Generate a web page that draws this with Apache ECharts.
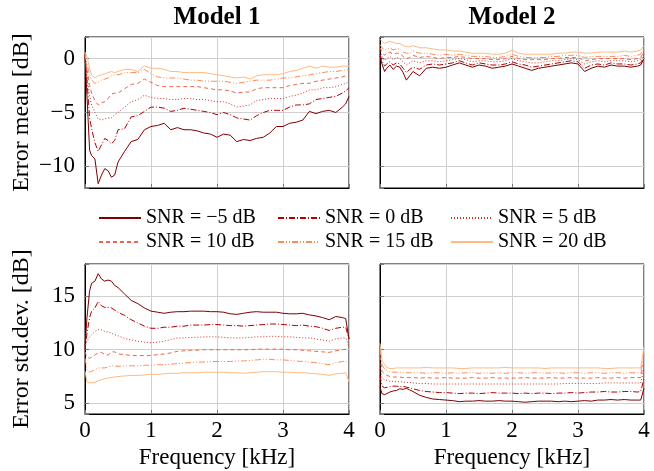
<!DOCTYPE html>
<html>
<head>
<meta charset="utf-8">
<script src="https://cdn.jsdelivr.net/npm/echarts@6/dist/echarts.min.js"></script>
<style>
  html, body { margin: 0; padding: 0; background: #fff; }
  #box { width: 654px; height: 471px; }
</style>
</head>
<body>
<div id="box"></div>
<script>
// frequency grid in kHz
var freq = [0, 0.03, 0.07, 0.1, 0.15, 0.2, 0.25, 0.3, 0.35, 0.4, 0.45, 0.5,
  0.6, 0.7, 0.8, 0.9, 1.0, 1.1, 1.2, 1.3, 1.4, 1.5,
  1.6, 1.7, 1.8, 1.9, 2.0, 2.1, 2.2, 2.3, 2.4, 2.5,
  2.6, 2.7, 2.8, 2.9, 3.0, 3.1, 3.2, 3.3, 3.4, 3.5,
  3.6, 3.7, 3.8, 3.9, 3.95, 4.0];

var snrNames = ['SNR = −5 dB', 'SNR = 0 dB', 'SNR = 5 dB', 'SNR = 10 dB', 'SNR = 15 dB', 'SNR = 20 dB'];
var xTicks = [0, 1, 2, 3, 4];

// Model 1, error mean [dB]
var m1Mean_m5 = [0.4,-3.5,-8.5,-9.0,-9.3,-11.6,-10.8,-10.2,-10.4,-11.0,-10.8,-9.6,
  -8.6,-7.7,-7.5,-6.6,-6.3,-6.2,-6.0,-6.6,-6.4,-6.6,
  -6.6,-6.7,-6.9,-7.0,-7.3,-7.0,-7.1,-7.7,-7.5,-7.6,
  -7.4,-7.3,-6.9,-6.3,-6.3,-6.0,-5.9,-5.7,-4.9,-5.1,
  -4.9,-4.8,-5.0,-4.5,-4.2,-3.5];
var m1Mean_0 = [0.3,-2.0,-5.5,-6.5,-7.8,-8.6,-8.0,-7.4,-7.6,-7.9,-7.6,-6.6,
  -6.5,-5.4,-5.3,-4.9,-4.5,-4.5,-4.6,-4.9,-4.8,-4.6,
  -4.7,-4.8,-4.9,-5.0,-5.2,-5.0,-5.2,-5.5,-5.6,-5.7,
  -5.3,-5.0,-4.8,-4.8,-4.8,-4.5,-4.3,-4.3,-4.2,-3.8,
  -3.7,-3.6,-3.5,-3.2,-3.0,-2.7];
var m1Mean_5 = [0.2,-1.5,-3.5,-4.3,-5.0,-5.6,-5.7,-5.6,-5.5,-5.5,-5.2,-5.0,
  -4.5,-4.0,-3.8,-3.4,-3.6,-3.7,-3.7,-3.8,-3.8,-3.7,
  -3.7,-3.8,-3.8,-3.9,-4.0,-4.0,-4.2,-4.5,-4.4,-4.3,
  -3.9,-3.8,-3.7,-3.7,-3.7,-3.5,-3.4,-3.2,-2.9,-2.9,
  -2.7,-2.7,-2.6,-2.4,-2.3,-2.1];
var m1Mean_10 = [0.3,-1.0,-2.5,-3.2,-3.9,-4.3,-4.1,-4.0,-3.7,-3.3,-3.2,-3.2,
  -2.8,-2.4,-2.3,-1.9,-2.2,-2.5,-2.6,-2.6,-2.6,-2.6,
  -2.6,-2.6,-2.7,-2.8,-2.9,-2.9,-3.0,-3.2,-3.1,-3.1,
  -2.8,-2.7,-2.7,-2.7,-2.7,-2.5,-2.4,-2.3,-2.3,-2.1,
  -2.0,-1.9,-1.8,-1.7,-1.6,-1.5];
var m1Mean_15 = [0.5,-0.5,-1.5,-2.0,-2.3,-2.2,-2.0,-1.9,-1.8,-1.6,-1.5,-1.5,
  -1.3,-1.3,-1.3,-1.0,-1.4,-1.7,-1.8,-1.8,-1.8,-1.9,
  -2.0,-2.0,-2.1,-2.1,-2.1,-2.1,-2.2,-2.3,-2.2,-2.1,
  -2.0,-2.0,-2.0,-1.9,-1.8,-1.8,-1.7,-1.6,-1.5,-1.4,
  -1.3,-1.2,-1.2,-1.1,-1.05,-1.0];
var m1Mean_20 = [0.6,0.2,-0.9,-1.5,-1.8,-1.6,-1.5,-1.4,-1.3,-1.2,-1.3,-1.2,
  -1.0,-1.0,-1.2,-0.7,-0.9,-0.9,-1.0,-1.2,-1.2,-1.3,
  -1.3,-1.3,-1.3,-1.4,-1.5,-1.6,-1.7,-1.8,-1.7,-1.9,
  -1.6,-1.5,-1.5,-1.5,-1.4,-1.2,-1.1,-0.9,-0.7,-0.9,
  -0.7,-0.8,-0.8,-0.7,-0.7,-0.7];

// Model 2, error mean [dB]
var m2Mean_m5 = [0.2,-0.5,-1.2,-0.9,-0.6,-1.0,-0.7,-0.8,-1.3,-2.0,-1.6,-1.2,
  -1.6,-0.9,-0.8,-0.9,-0.8,-0.6,-0.4,-0.6,-0.8,-0.6,
  -0.7,-0.9,-0.8,-0.7,-0.5,-0.7,-0.9,-1.1,-0.9,-0.8,
  -0.7,-0.6,-0.5,-0.4,-0.5,-1.2,-0.9,-0.7,-0.8,-0.6,
  -0.7,-0.7,-0.8,-0.7,-0.6,0.0];
var m2Mean_0 = [0.4,-0.2,-0.7,-0.5,-0.3,-0.6,-0.4,-0.5,-0.9,-1.3,-1.0,-0.8,
  -1.0,-0.6,-0.5,-0.6,-0.5,-0.4,-0.2,-0.4,-0.6,-0.4,
  -0.5,-0.6,-0.6,-0.5,-0.3,-0.5,-0.6,-0.8,-0.7,-0.6,
  -0.5,-0.4,-0.3,-0.2,-0.3,-0.9,-0.6,-0.5,-0.6,-0.4,
  -0.5,-0.5,-0.6,-0.5,-0.4,0.2];
var m2Mean_5 = [0.7,0.2,-0.2,0.0,0.2,-0.1,0.1,0.0,-0.3,-0.6,-0.4,-0.2,
  -0.4,-0.2,-0.2,-0.3,-0.2,-0.1,0.0,-0.1,-0.3,-0.2,
  -0.2,-0.3,-0.3,-0.2,0.0,-0.2,-0.3,-0.4,-0.4,-0.3,
  -0.2,-0.2,-0.1,0.0,-0.1,-0.5,-0.3,-0.2,-0.3,-0.2,
  -0.2,-0.2,-0.3,-0.2,-0.1,0.4];
var m2Mean_10 = [1.0,0.6,0.3,0.5,0.6,0.4,0.5,0.5,0.2,0.0,0.1,0.3,
  0.1,0.2,0.1,0.0,0.1,0.1,0.2,0.1,0.0,0.0,
  0.0,-0.1,-0.1,0.0,0.2,0.0,-0.1,-0.1,-0.1,-0.1,
  0.0,0.0,0.1,0.1,0.1,-0.2,-0.1,0.0,0.0,0.0,
  0.0,0.0,-0.1,0.0,0.1,0.6];
var m2Mean_15 = [1.3,1.0,0.8,0.9,1.0,0.8,0.9,0.9,0.6,0.5,0.5,0.7,
  0.5,0.5,0.4,0.3,0.4,0.3,0.4,0.3,0.2,0.2,
  0.2,0.1,0.1,0.2,0.4,0.2,0.1,0.1,0.1,0.1,
  0.2,0.2,0.3,0.3,0.3,0.1,0.2,0.2,0.2,0.2,
  0.2,0.3,0.2,0.3,0.4,0.9];
var m2Mean_20 = [1.8,1.6,1.4,1.5,1.6,1.5,1.4,1.4,1.2,1.1,1.1,1.2,
  1.0,1.0,0.9,0.8,0.8,0.7,0.7,0.6,0.5,0.5,
  0.5,0.4,0.4,0.5,0.8,0.5,0.4,0.4,0.4,0.4,
  0.4,0.5,0.5,0.6,0.6,0.5,0.5,0.6,0.6,0.6,
  0.6,0.7,0.6,0.7,0.8,1.2];

// Model 1, error std.dev. [dB]
var m1Std_m5 = [10.3,13.0,15.5,16.2,16.4,17.1,16.6,16.4,16.5,16.4,16.0,15.8,
  15.2,14.6,14.3,13.9,13.6,13.5,13.4,13.5,13.55,13.55,
  13.6,13.6,13.6,13.55,13.55,13.5,13.35,13.3,13.4,13.5,
  13.55,13.5,13.5,13.5,13.4,13.35,13.35,13.4,13.25,13.15,
  13.0,12.8,13.1,13.0,12.9,11.0];
var m1Std_0 = [10.0,11.5,13.0,13.6,13.9,14.5,14.1,13.95,13.95,13.9,13.7,13.5,
  13.2,12.8,12.5,12.2,12.0,12.0,12.1,12.1,12.2,12.2,
  12.3,12.3,12.3,12.35,12.35,12.3,12.25,12.25,12.2,12.25,
  12.3,12.35,12.4,12.4,12.35,12.3,12.25,12.3,12.2,12.15,
  12.0,11.8,12.0,12.1,12.1,11.0];
var m1Std_5 = [10.4,10.8,11.2,11.4,11.7,11.9,11.85,11.7,11.65,11.55,11.4,11.3,
  11.05,10.9,10.8,10.7,10.65,10.7,10.8,10.95,11.1,11.1,
  11.15,11.15,11.2,11.2,11.2,11.15,11.1,11.1,11.1,11.15,
  11.2,11.2,11.25,11.25,11.2,11.2,11.15,11.1,11.1,11.0,
  10.9,10.8,11.0,11.1,11.1,10.3];
var m1Std_10 = [9.8,9.3,9.2,9.35,9.5,9.7,9.75,9.55,9.5,9.8,9.8,9.6,
  9.55,9.45,9.45,9.45,9.45,9.55,9.6,9.7,9.85,9.9,
  9.95,9.95,10.0,10.0,10.0,10.0,10.0,10.0,10.0,10.0,
  10.05,10.05,10.05,10.05,10.05,10.0,10.0,9.95,9.9,9.85,
  9.8,9.75,9.9,10.0,10.05,9.8];
var m1Std_15 = [9.2,8.2,7.9,8.0,8.15,8.3,8.3,8.3,8.4,8.5,8.5,8.45,
  8.5,8.5,8.5,8.55,8.55,8.6,8.6,8.65,8.7,8.75,
  8.8,8.85,8.85,8.9,8.9,8.9,8.9,8.95,8.95,9.0,
  9.05,9.1,9.1,9.05,9.05,9.0,8.95,8.9,8.85,8.8,
  8.7,8.6,8.8,8.9,8.95,8.6];
var m1Std_20 = [8.0,7.0,6.9,6.75,6.95,7.1,7.2,7.3,7.35,7.4,7.45,7.5,
  7.55,7.6,7.6,7.65,7.7,7.7,7.75,7.8,7.8,7.85,
  7.85,7.85,7.9,7.9,7.9,7.9,7.85,7.85,7.8,7.85,
  7.9,7.95,7.95,7.95,7.9,7.9,7.85,7.85,7.8,7.75,
  7.7,7.6,7.75,7.8,7.85,7.0];

// Model 2, error std.dev. [dB]
var m2Std_m5 = [6.5,5.9,5.8,5.9,6.05,6.15,6.2,6.35,6.3,6.4,6.25,6.1,
  5.75,5.55,5.4,5.35,5.3,5.25,5.15,5.2,5.2,5.25,
  5.2,5.2,5.25,5.2,5.2,5.15,5.1,5.15,5.2,5.2,
  5.2,5.15,5.2,5.15,5.2,5.25,5.2,5.3,5.3,5.35,
  5.3,5.35,5.3,5.3,5.3,6.4];
var m2Std_0 = [7.6,6.6,6.45,6.5,6.55,6.6,6.6,6.55,6.6,6.5,6.45,6.35,
  6.2,6.1,6.05,6.0,6.0,5.95,5.9,5.95,5.95,5.9,
  5.95,6.0,5.95,5.95,5.95,5.9,5.95,5.9,5.95,5.95,
  5.9,5.95,5.95,6.0,5.95,6.0,6.05,6.05,6.1,6.05,
  6.05,6.1,6.1,6.05,6.1,7.3];
var m2Std_5 = [8.6,7.4,7.2,7.1,7.05,7.05,7.0,7.0,7.0,6.95,6.95,6.9,
  6.85,6.85,6.8,6.8,6.8,6.8,6.8,6.8,6.8,6.8,
  6.8,6.8,6.8,6.8,6.8,6.8,6.8,6.8,6.8,6.8,
  6.8,6.8,6.85,6.85,6.85,6.85,6.85,6.85,6.9,6.9,
  6.9,6.9,6.9,6.9,6.9,8.2];
var m2Std_10 = [9.4,8.0,7.7,7.55,7.5,7.45,7.45,7.45,7.4,7.4,7.4,7.4,
  7.35,7.4,7.35,7.35,7.4,7.35,7.35,7.35,7.4,7.35,
  7.35,7.4,7.35,7.35,7.35,7.35,7.4,7.35,7.35,7.35,
  7.4,7.35,7.35,7.4,7.35,7.35,7.35,7.4,7.35,7.35,
  7.4,7.35,7.4,7.4,7.4,9.0];
var m2Std_15 = [10.0,8.6,8.2,8.05,7.95,7.9,7.9,7.9,7.85,7.85,7.85,7.85,
  7.85,7.8,7.85,7.85,7.8,7.85,7.8,7.85,7.85,7.8,
  7.85,7.8,7.85,7.8,7.85,7.85,7.8,7.85,7.85,7.8,
  7.85,7.85,7.8,7.85,7.85,7.8,7.85,7.85,7.8,7.85,
  7.85,7.8,7.85,7.85,7.85,9.6];
var m2Std_20 = [10.6,9.0,8.6,8.35,8.25,8.25,8.3,8.3,8.3,8.3,8.3,8.3,
  8.3,8.35,8.3,8.3,8.3,8.3,8.25,8.25,8.3,8.3,
  8.3,8.3,8.3,8.35,8.3,8.3,8.3,8.3,8.3,8.25,
  8.3,8.3,8.3,8.3,8.3,8.3,8.3,8.3,8.25,8.25,
  8.3,8.3,8.3,8.3,8.3,10.3];

var colors = ['#7f0000', '#b30000', '#d7301f', '#ef6548', '#fc8d59', '#fdbb84'];
var dashes = ['solid', [6, 2, 1, 2], [1, 2], [4, 3], [6, 2, 1, 2, 1, 2], 'solid'];
var font = 'Liberation Serif';

var panels = [
  [m1Mean_m5, m1Mean_0, m1Mean_5, m1Mean_10, m1Mean_15, m1Mean_20],
  [m2Mean_m5, m2Mean_0, m2Mean_5, m2Mean_10, m2Mean_15, m2Mean_20],
  [m1Std_m5, m1Std_0, m1Std_5, m1Std_10, m1Std_15, m1Std_20],
  [m2Std_m5, m2Std_0, m2Std_5, m2Std_10, m2Std_15, m2Std_20]
];

var grids = [
  {left: 85, top: 37, width: 264, height: 151},
  {left: 380, top: 37, width: 264, height: 151},
  {left: 85, top: 264, width: 264, height: 150},
  {left: 380, top: 264, width: 264, height: 150}
];
grids.forEach(function (g) {
  g.show = true;
  g.borderColor = '#000';
  g.borderWidth = 1;
  g.backgroundColor = 'transparent';
});

// only label the multiples of 5, with a real minus sign
function minusFmt(v) {
  if (v % 5 !== 0) return '';
  return String(v).replace('-', '\u2212');
}

var xAxes = [], yAxes = [];
for (var p = 0; p < 4; p++) {
  var bottom = p >= 2, left = p % 2 === 0;
  xAxes.push({
    type: 'value', gridIndex: p, min: 0, max: 4, interval: 1,
    name: bottom ? 'Frequency [kHz]' : '', nameLocation: 'middle', nameGap: 32,
    nameTextStyle: {fontFamily: font, fontSize: 23, color: '#000'},
    axisLine: {show: true, onZero: false, lineStyle: {color: '#000'}},
    axisTick: {show: true, inside: true, length: 4, lineStyle: {color: '#777'}},
    axisLabel: {show: bottom, fontFamily: font, fontSize: 23, color: '#000', margin: 5},
    splitLine: {show: true, lineStyle: {color: '#cfcfcf', width: 1}}
  });
  yAxes.push({
    type: 'value', gridIndex: p,
    min: bottom ? 4 : -12, max: bottom ? 18 : 2, splitNumber: 3,
    name: left ? (bottom ? 'Error std.dev. [dB]' : 'Error mean [dB]') : '',
    nameLocation: 'middle', nameGap: 51,
    nameTextStyle: {fontFamily: font, fontSize: 24, color: '#000'},
    axisLine: {show: true, onZero: false, lineStyle: {color: '#000'}},
    axisTick: {show: true, inside: true, length: 4, lineStyle: {color: '#777'}},
    axisLabel: {show: left, fontFamily: font, fontSize: 23, color: '#000', margin: 10, formatter: minusFmt},
    splitLine: {show: true, lineStyle: {color: '#cfcfcf', width: 1}}
  });
}

var series = [];
panels.forEach(function (sets, p) {
  sets.forEach(function (vals, s) {
    series.push({
      name: snrNames[s], type: 'line', xAxisIndex: p, yAxisIndex: p,
      symbol: 'none', animation: false,
      itemStyle: {color: colors[s]},
      lineStyle: {color: colors[s], width: 1, type: dashes[s]},
      data: freq.map(function (f, i) { return [f, vals[i]]; })
    });
  });
});

var legendLeft = [93, 272, 445];
var legends = legendLeft.map(function (x, c) {
  return {
    data: [snrNames[c], snrNames[c + 3]], orient: 'vertical', left: x, top: 203,
    itemWidth: 42, itemHeight: 14, itemGap: 4, selectedMode: false,
    itemStyle: {opacity: 0},
    textStyle: {fontFamily: font, fontSize: 20, color: '#000'}
  };
});

var myChart = echarts.init(document.getElementById('box'));
myChart.setOption({
  backgroundColor: '#fff',
  animation: false,
  title: [
    {text: 'Model 1', left: 217, top: 5, textAlign: 'center', padding: 0,
     textStyle: {fontFamily: font, fontSize: 25, fontWeight: 'bold', color: '#000'}},
    {text: 'Model 2', left: 512, top: 5, textAlign: 'center', padding: 0,
     textStyle: {fontFamily: font, fontSize: 25, fontWeight: 'bold', color: '#000'}}
  ],
  legend: legends,
  grid: grids,
  xAxis: xAxes,
  yAxis: yAxes,
  series: series
});
</script>
</body>
</html>
